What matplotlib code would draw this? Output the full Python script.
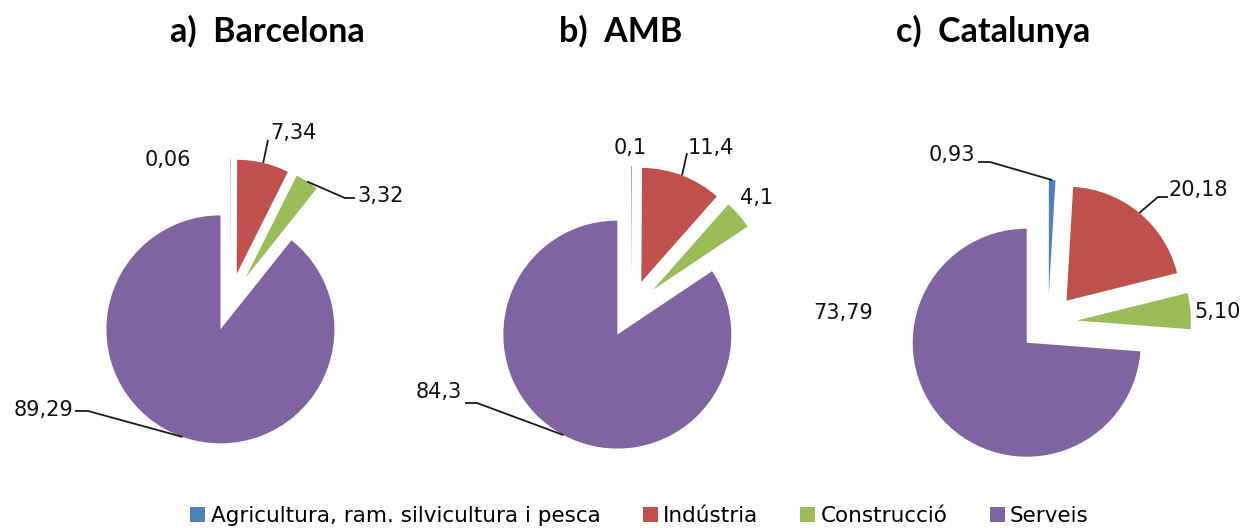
import matplotlib
matplotlib.use('Agg')
import matplotlib.pyplot as plt
from matplotlib.patches import Patch
import numpy as np

# ---------------- data ----------------
categories = ['Agricultura, ram. silvicultura i pesca', 'Indústria', 'Construcció', 'Serveis']
titles = ['a)  Barcelona', 'b)  AMB', 'c)  Catalunya']
barcelona = [0.06, 7.34, 3.32, 89.29]
amb = [0.1, 11.4, 4.1, 84.3]
catalunya = [0.93, 20.18, 5.10, 73.79]
barcelona_labels = ['0,06', '7,34', '3,32', '89,29']
amb_labels = ['0,1', '11,4', '4,1', '84,3']
catalunya_labels = ['0,93', '20,18', '5,10', '73,79']
colors = ['#4F81BD', '#C0504D', '#9BBB59', '#8064A2']

# ---------------- layout (pixels, y measured downward) ----------------
W, H = 1254, 528
centers = [(230, 302), (631, 309), (1048, 323)]
title_x = [267, 621, 993]
title_baseline = 41.5
radius = 114
explode_px = 29

# label placement: (dx, dy, ha, leader waypoints or None) relative to pie centre
label_layout = [
    [(-62, -142, 'center', None),
     (40, -169, 'left', [(38, -162)]),
     (127, -106, 'left', [(115, -104), (125, -104)]),
     (-157, 108, 'right', [(-142, 109), (-155, 109)])],
    [(-1, -161, 'center', None),
     (57, -161, 'left', [(56, -156)]),
     (109, -111, 'left', None),
     (-169, 83, 'right', [(-154, 94), (-166, 94)])],
    [(-73, -168, 'right', [(-58, -161), (-70, -161)]),
     (120, -133, 'left', [(110, -126), (120, -126)]),
     (146, -11, 'left', None),
     (-175, -10, 'right', None)],
]

fig = plt.figure(figsize=(W / 100, H / 100), dpi=100)
ax = fig.add_axes([0, 0, 1, 1])

datasets = [barcelona, amb, catalunya]
labelsets = [barcelona_labels, amb_labels, catalunya_labels]

for k, (vals, labs) in enumerate(zip(datasets, labelsets)):
    cx, cy = centers[k]
    cyd = H - cy
    wedges, _ = ax.pie(vals, colors=colors, startangle=90, counterclock=False,
                       radius=radius, center=(cx, cyd),
                       explode=[explode_px] * len(vals),
                       wedgeprops=dict(linewidth=0), frame=True)
    total = float(sum(vals))
    cum = 0.0
    for i, v in enumerate(vals):
        mid = (cum + v / 2) / total * 2 * np.pi  # clockwise from top
        cum += v
        dx, dy, ha, leader = label_layout[k][i]
        tx, ty = cx + dx, cyd - dy
        ax.text(tx, ty, labs[i], ha=ha, va='center', fontsize=15,
                family='DejaVu Sans', color='#111111')
        if leader:
            sx, sy = np.sin(mid), np.cos(mid)
            ax0 = cx + (explode_px + radius) * sx
            ay0 = cyd + (explode_px + radius) * sy
            xs = [ax0] + [cx + p[0] for p in leader]
            ys = [ay0] + [cyd - p[1] for p in leader]
            ax.plot(xs, ys, color='#1a1a1a', lw=1.3, solid_capstyle='butt')
    ax.text(title_x[k], H - title_baseline, titles[k], ha='center', va='baseline',
            fontsize=24.5, fontweight='bold', family=['Lato', 'DejaVu Sans'])

ax.set_xlim(0, W)
ax.set_ylim(0, H)
ax.set_aspect('equal')
ax.axis('off')

handles = [Patch(facecolor=c, edgecolor='none') for c in colors]
fig.legend(handles, categories, loc='center', bbox_to_anchor=(0.510, 0.022),
           ncol=4, frameon=False, handlelength=0.7, handleheight=0.7,
           handletextpad=0.25, columnspacing=1.95, borderpad=0.1,
           prop=dict(family='DejaVu Sans', size=15.5))

fig.savefig('out.png', dpi=100)
